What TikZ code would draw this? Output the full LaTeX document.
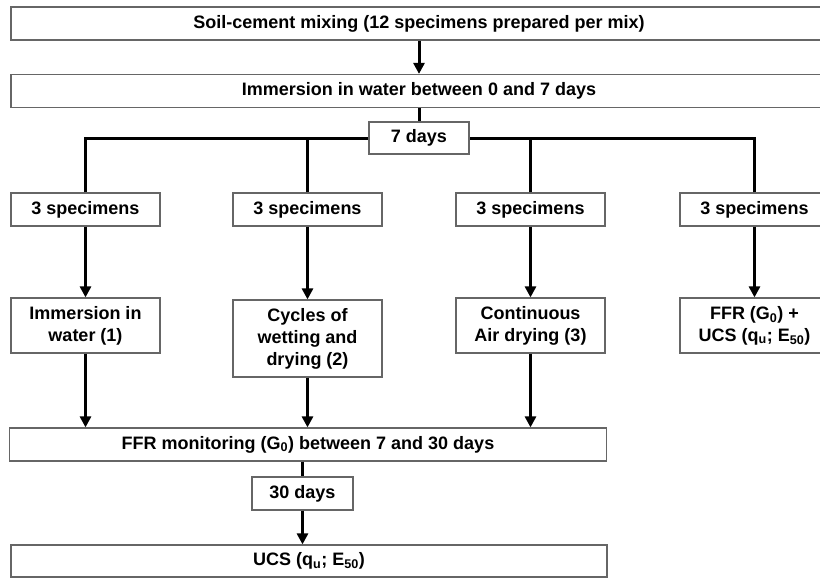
\documentclass[tikz,border=0pt]{standalone}
\usepackage{fontspec}
\setmainfont{Liberation Sans}
\usetikzlibrary{positioning,arrows.meta}

\begin{document}
\begin{tikzpicture}[x=1pt,y=-1pt,on grid,
    box/.style={draw=black!60,line width=1.2pt,fill=white,align=center,
        font=\fontsize{18}{22}\selectfont\bfseries,inner sep=0pt,minimum height=33pt},
    wide/.style={box,minimum width=816pt},
    col/.style={box,minimum width=149pt},
    link/.style={line width=3pt},
    go/.style={link,-{Triangle[length=11pt,width=11pt]}}]
            \useasboundingbox (0,0) rectangle (820,578);
            \clip (0,0) rectangle (820,578);
            \node[wide] (mix) at (419,23.5) {Soil-cement mixing (12 specimens prepared per mix)};
            \node[wide] (soak) [below=67.5pt of mix] {Immersion in water between 0 and 7 days};
            \node[box,minimum width=100pt,minimum height=32pt] (week) [below=47pt of soak] {7 days};
            \node[col] (spec1) at (85.5,209.5) {3 specimens};
            \node[col] (spec2) [right=222pt of spec1] {3 specimens};
            \node[col] (spec3) [right=223pt of spec2] {3 specimens};
            \node[col] (spec4) [right=224pt of spec3] {3 specimens};
            \node[col,minimum height=55pt] (wet) [below=116pt of spec1] {Immersion in\\water (1)};
            \node[col,minimum height=77pt] (cyc) [below=129pt of spec2] {Cycles of\\wetting and\\drying (2)};
            \node[col,minimum height=55pt] (air) [below=116pt of spec3] {Continuous\\Air drying (3)};
            \node[col,minimum height=55pt] (ffr) [below=116pt of spec4] {FFR (G\textsubscript{0}) +\\UCS (q\textsubscript{u}; E\textsubscript{50})};
            \node[box,minimum width=597pt] (monitor) at (308,444.5) {FFR monitoring (G\textsubscript{0}) between 7 and 30 days};
            \node[box,minimum width=101pt] (month) [below left=49pt and 5.5pt of monitor] {30 days};
            \node[box,minimum width=596pt,minimum height=32pt] (ucs) [below right=67.5pt and 6.5pt of month] {UCS (q\textsubscript{u}; E\textsubscript{50})};
            % split into the four series
            \draw[link] (week.north |- soak.south) -- (week.north);
            \draw[link] (spec1.north) |- (week.west);
            \draw[link] (spec4.north) |- (week.east);
            \draw[link] (spec2.north) -- (spec2 |- week);
            \draw[link] (spec3.north) -- (spec3 |- week);
            \draw[link] (month.north |- monitor.south) -- (month.north);
            \path[go]
                (mix) edge (soak)
                (spec1) edge (wet)
                (spec2) edge (cyc)
                (spec3) edge (air)
                (spec4) edge (ffr)
                (wet) edge (wet |- monitor.north)
                (cyc) edge (cyc |- monitor.north)
                (air) edge (air |- monitor.north)
                (month) edge (month |- ucs.north);
        \end{tikzpicture}
\end{document}
